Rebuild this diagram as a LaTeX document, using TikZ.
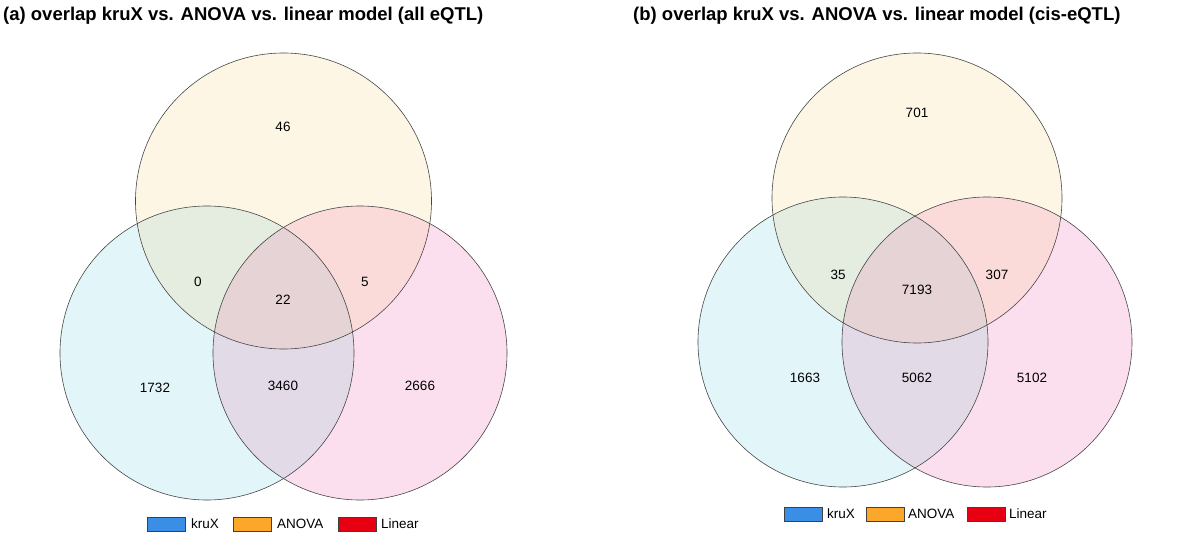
\documentclass[tikz,border=0pt]{standalone}
\usepackage{fontspec}
\setmainfont{Liberation Sans}
\definecolor{kfill}{HTML}{E2F6F9}
\definecolor{afill}{HTML}{FDF6E4}
\definecolor{lfill}{HTML}{FCDFEE}
\definecolor{kafill}{HTML}{E5EDE0}
\definecolor{klfill}{HTML}{E3DAE8}
\definecolor{alfill}{HTML}{FADBDA}
\definecolor{allfill}{HTML}{E5D3D6}
\definecolor{kleg}{HTML}{3A8EE6}
\definecolor{aleg}{HTML}{FAA72A}
\definecolor{lleg}{HTML}{E60012}
\newcommand{\venndraw}[5]{%
  \fill[kfill] (#2) circle[radius=#5];
  \fill[afill] (#1) circle[radius=#4];
  \fill[lfill] (#3) circle[radius=#5];
  \begin{scope}\clip (#2) circle[radius=#5]; \fill[kafill] (#1) circle[radius=#4];\end{scope}
  \begin{scope}\clip (#2) circle[radius=#5]; \fill[klfill] (#3) circle[radius=#5];\end{scope}
  \begin{scope}\clip (#1) circle[radius=#4]; \fill[alfill] (#3) circle[radius=#5];\end{scope}
  \begin{scope}\clip (#1) circle[radius=#4]; \clip (#2) circle[radius=#5]; \fill[allfill] (#3) circle[radius=#5];\end{scope}
  \draw[vline] (#1) circle[radius=#4];
  \draw[vline] (#2) circle[radius=#5];
  \draw[vline] (#3) circle[radius=#5];
}
\begin{document}
\begin{tikzpicture}[x=1pt,y=-1pt,
  vline/.style={draw=black!72, line width=0.6pt},
  num/.style={font=\fontsize{13.5}{16}\selectfont, inner sep=0pt},
  ttl/.style={font=\fontsize{18.5}{22}\selectfont\bfseries, anchor=west, inner sep=0pt},
  legbox/.style={draw=black!75, line width=0.5pt, minimum width=38pt, minimum height=14pt, inner sep=0pt},
  legtxt/.style={font=\fontsize{13.5}{16}\selectfont, anchor=west, inner sep=0pt}]
\useasboundingbox (0,0) rectangle (1200,535);
\fill[white] (0,0) rectangle (1200,535);

% ---------- panel (a)
\coordinate (aA) at (283.5,201);
\coordinate (aK) at (207,353);
\coordinate (aL) at (360,353);
\venndraw{aA}{aK}{aL}{148pt}{147pt}
\node[ttl] (ta) at (3,16) {(a) overlap kruX vs. ANOVA vs. linear model (all eQTL)};
\node[num] (a1) at (283,127) {46};
\node[num] (a2) at (198,282) {0};
\node[num] (a3) at (365,282) {5};
\node[num] (a4) at (283,300) {22};
\node[num] (a5) at (155,388) {1732};
\node[num] (a6) at (283,386) {3460};
\node[num] (a7) at (420,386) {2666};
\node[legbox, fill=kleg] (akb) at (166.5,524) {};
\node[legtxt] (akt) at (191,524) {kruX};
\node[legbox, fill=aleg] (aab) at (252,524) {};
\node[legtxt] (aat) at (277,524) {ANOVA};
\node[legbox, fill=lleg] (alb) at (357,524) {};
\node[legtxt] (alt) at (381,524) {Linear};

% ---------- panel (b)
\coordinate (bA) at (917,198);
\coordinate (bK) at (843,342);
\coordinate (bL) at (987,342);
\venndraw{bA}{bK}{bL}{145pt}{145pt}
\node[ttl] (tb) at (633,16) {(b) overlap kruX vs. ANOVA vs. linear model (cis-eQTL)};
\node[num] (b1) at (917,113) {701};
\node[num] (b2) at (838,275) {35};
\node[num] (b3) at (997,275) {307};
\node[num] (b4) at (917,290) {7193};
\node[num] (b5) at (805,378) {1663};
\node[num] (b6) at (917,378) {5062};
\node[num] (b7) at (1032,378) {5102};
\node[legbox, fill=kleg] (bkb) at (803,514) {};
\node[legtxt] (bkt) at (827,514) {kruX};
\node[legbox, fill=aleg] (bab) at (885,514) {};
\node[legtxt] (bat) at (908,514) {ANOVA};
\node[legbox, fill=lleg] (blb) at (986,514) {};
\node[legtxt] (blt) at (1009,514) {Linear};
\end{tikzpicture}
\end{document}
